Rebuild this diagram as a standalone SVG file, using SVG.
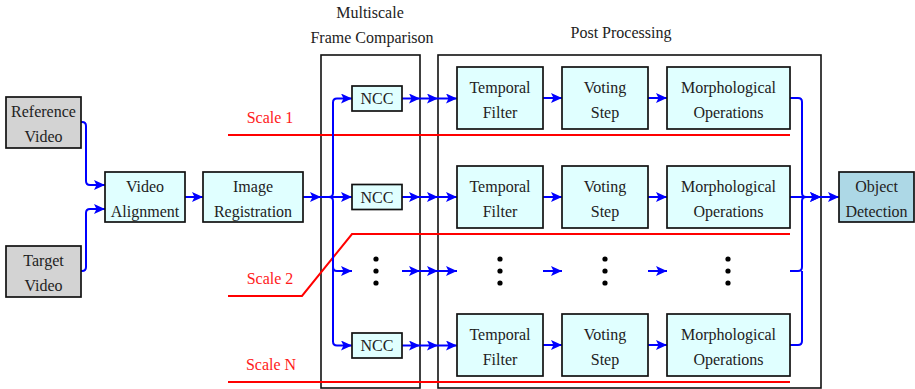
<svg xmlns="http://www.w3.org/2000/svg" width="915" height="389" viewBox="0 0 915 389" font-family="'Liberation Serif', Tinos, 'Times New Roman', 'DejaVu Serif', 'Noto Serif', serif">
<style>
text{font-family:'Liberation Serif',Tinos,'Times New Roman','DejaVu Serif','Noto Serif',serif;font-size:16px;fill:#222;text-anchor:middle}
.red{fill:#ff1a1a}
.box{stroke:#111;stroke-width:1.7}
.cyan{fill:#e0ffff}
.gray{fill:#d3d3d3}
.blue{fill:#add8e6}
.frame{fill:none;stroke:#111;stroke-width:1.6}
.rl{fill:none;stroke:#ff0000;stroke-width:2}
.c{fill:none;stroke:#0000ff;stroke-width:2}
.a{marker-end:url(#ah)}
.dot{fill:#000}
</style>
<defs>
<marker id="ah" markerUnits="userSpaceOnUse" markerWidth="12" markerHeight="10" refX="11" refY="5" orient="auto" viewBox="0 0 12 10">
<path d="M0,0 L11,5 L0,10 L2.5,5 Z" fill="#0000ff"/>
</marker>
</defs>
<g id="frames">
<rect class="frame" x="321" y="55" width="99" height="333"/>
<rect class="frame" x="438" y="55" width="383" height="333"/>
<text x="370" y="18">Multiscale</text>
<text x="372" y="43">Frame Comparison</text>
<text x="621" y="38">Post Processing</text>
</g>
<g id="scales">
<path class="rl" d="M228,135 H790"/>
<path class="rl" d="M228,296 H302 L352,234 H790"/>
<path class="rl" d="M228,382 H790"/>
<text class="red" x="270" y="123">Scale 1</text>
<text class="red" x="270" y="284">Scale 2</text>
<text class="red" x="271" y="370">Scale N</text>
</g>
<g id="connectors">
<path class="c a" d="M81,122 H82 Q86,122 86,126 V181 Q86,185 90,185 H105"/>
<path class="c a" d="M81,271 H82 Q86,271 86,267 V213 Q86,209 90,209 H105"/>
<path class="c a" d="M185,197 H203"/>
<path class="c a" d="M303,197 H321"/>
<path class="c a" d="M321,197 H352"/>
<path class="c a" d="M321,197 H329 Q333,197 333,193 V102.5 Q333,98.5 337,98.5 H352"/>
<path class="c a" d="M329,197 Q333,197 333,201 V267 Q333,271 337,271 H352"/>
<path class="c a" d="M333,267 V341.5 Q333,345.5 337,345.5 H352"/>
<path class="c a" d="M402,98.5 H420"/><path class="c a" d="M420,98.5 H438"/><path class="c a" d="M438,98.5 H457"/>
<path class="c a" d="M402,197 H420"/><path class="c a" d="M420,197 H438"/><path class="c a" d="M438,197 H457"/>
<path class="c a" d="M402,271 H420"/><path class="c a" d="M420,271 H438"/><path class="c a" d="M438,271 H457"/>
<path class="c a" d="M402,345.5 H420"/><path class="c a" d="M420,345.5 H438"/><path class="c a" d="M438,345.5 H457"/>
<path class="c a" d="M543,98 H562"/><path class="c a" d="M648,98 H667"/>
<path class="c a" d="M543,197 H562"/><path class="c a" d="M648,197 H667"/>
<path class="c a" d="M543,271 H562"/><path class="c a" d="M648,271 H667"/>
<path class="c a" d="M543,345 H562"/><path class="c a" d="M648,345 H667"/>
<path class="c a" d="M790,98 H798 Q802,98 802,102 V193 Q802,197 806,197 H821"/>
<path class="c a" d="M790,197 H821"/>
<path class="c" d="M790,271 H798 Q802,271 802,267 V201 Q802,197 806,197"/>
<path class="c" d="M790,345 H798 Q802,345 802,341 V271"/>
<path class="c a" d="M821,197 H839"/>
</g>
<g id="dots">
<circle class="dot" cx="376" cy="259" r="2.6"/><circle class="dot" cx="376" cy="271" r="2.6"/><circle class="dot" cx="376" cy="283" r="2.6"/>
<circle class="dot" cx="500" cy="259" r="2.6"/><circle class="dot" cx="500" cy="271" r="2.6"/><circle class="dot" cx="500" cy="283" r="2.6"/>
<circle class="dot" cx="605" cy="259" r="2.6"/><circle class="dot" cx="605" cy="271" r="2.6"/><circle class="dot" cx="605" cy="283" r="2.6"/>
<circle class="dot" cx="728" cy="259" r="2.6"/><circle class="dot" cx="728" cy="271" r="2.6"/><circle class="dot" cx="728" cy="283" r="2.6"/>
</g>
<g id="ref-video"><rect class="box gray" x="6" y="97" width="75" height="51"/><text x="43.5" y="117">Reference</text><text x="43.5" y="142">Video</text></g>
<g id="target-video"><rect class="box gray" x="6" y="246" width="75" height="51"/><text x="43.5" y="266">Target</text><text x="43.5" y="291">Video</text></g>
<g id="video-alignment"><rect class="box cyan" x="105" y="172" width="80" height="50"/><text x="145" y="191.5">Video</text><text x="145" y="216.5">Alignment</text></g>
<g id="image-registration"><rect class="box cyan" x="203" y="172" width="100" height="50"/><text x="253" y="191.5">Image</text><text x="253" y="216.5">Registration</text></g>
<g id="ncc1"><rect class="box cyan" x="352" y="86" width="50" height="25"/><text x="377" y="104">NCC</text></g>
<g id="ncc2"><rect class="box cyan" x="352" y="184.5" width="50" height="25"/><text x="377" y="202.5">NCC</text></g>
<g id="ncc3"><rect class="box cyan" x="352" y="333" width="50" height="25"/><text x="377" y="351">NCC</text></g>
<g id="temporal1"><rect class="box cyan" x="457" y="67" width="86" height="62"/><text x="500" y="92.5">Temporal</text><text x="500" y="117.5">Filter</text></g>
<g id="temporal2"><rect class="box cyan" x="457" y="166" width="86" height="62"/><text x="500" y="191.5">Temporal</text><text x="500" y="216.5">Filter</text></g>
<g id="temporal3"><rect class="box cyan" x="457" y="314" width="86" height="62"/><text x="500" y="339.5">Temporal</text><text x="500" y="364.5">Filter</text></g>
<g id="voting1"><rect class="box cyan" x="562" y="67" width="86" height="62"/><text x="605" y="92.5">Voting</text><text x="605" y="117.5">Step</text></g>
<g id="voting2"><rect class="box cyan" x="562" y="166" width="86" height="62"/><text x="605" y="191.5">Voting</text><text x="605" y="216.5">Step</text></g>
<g id="voting3"><rect class="box cyan" x="562" y="314" width="86" height="62"/><text x="605" y="339.5">Voting</text><text x="605" y="364.5">Step</text></g>
<g id="morph1"><rect class="box cyan" x="667" y="67" width="123" height="62"/><text x="728.5" y="92.5">Morphological</text><text x="728.5" y="117.5">Operations</text></g>
<g id="morph2"><rect class="box cyan" x="667" y="166" width="123" height="62"/><text x="728.5" y="191.5">Morphological</text><text x="728.5" y="216.5">Operations</text></g>
<g id="morph3"><rect class="box cyan" x="667" y="314" width="123" height="62"/><text x="728.5" y="339.5">Morphological</text><text x="728.5" y="364.5">Operations</text></g>
<g id="object-detection"><rect class="box blue" x="839" y="172" width="75" height="50"/><text x="876.5" y="191.5">Object</text><text x="876.5" y="216.5">Detection</text></g>
</svg>
